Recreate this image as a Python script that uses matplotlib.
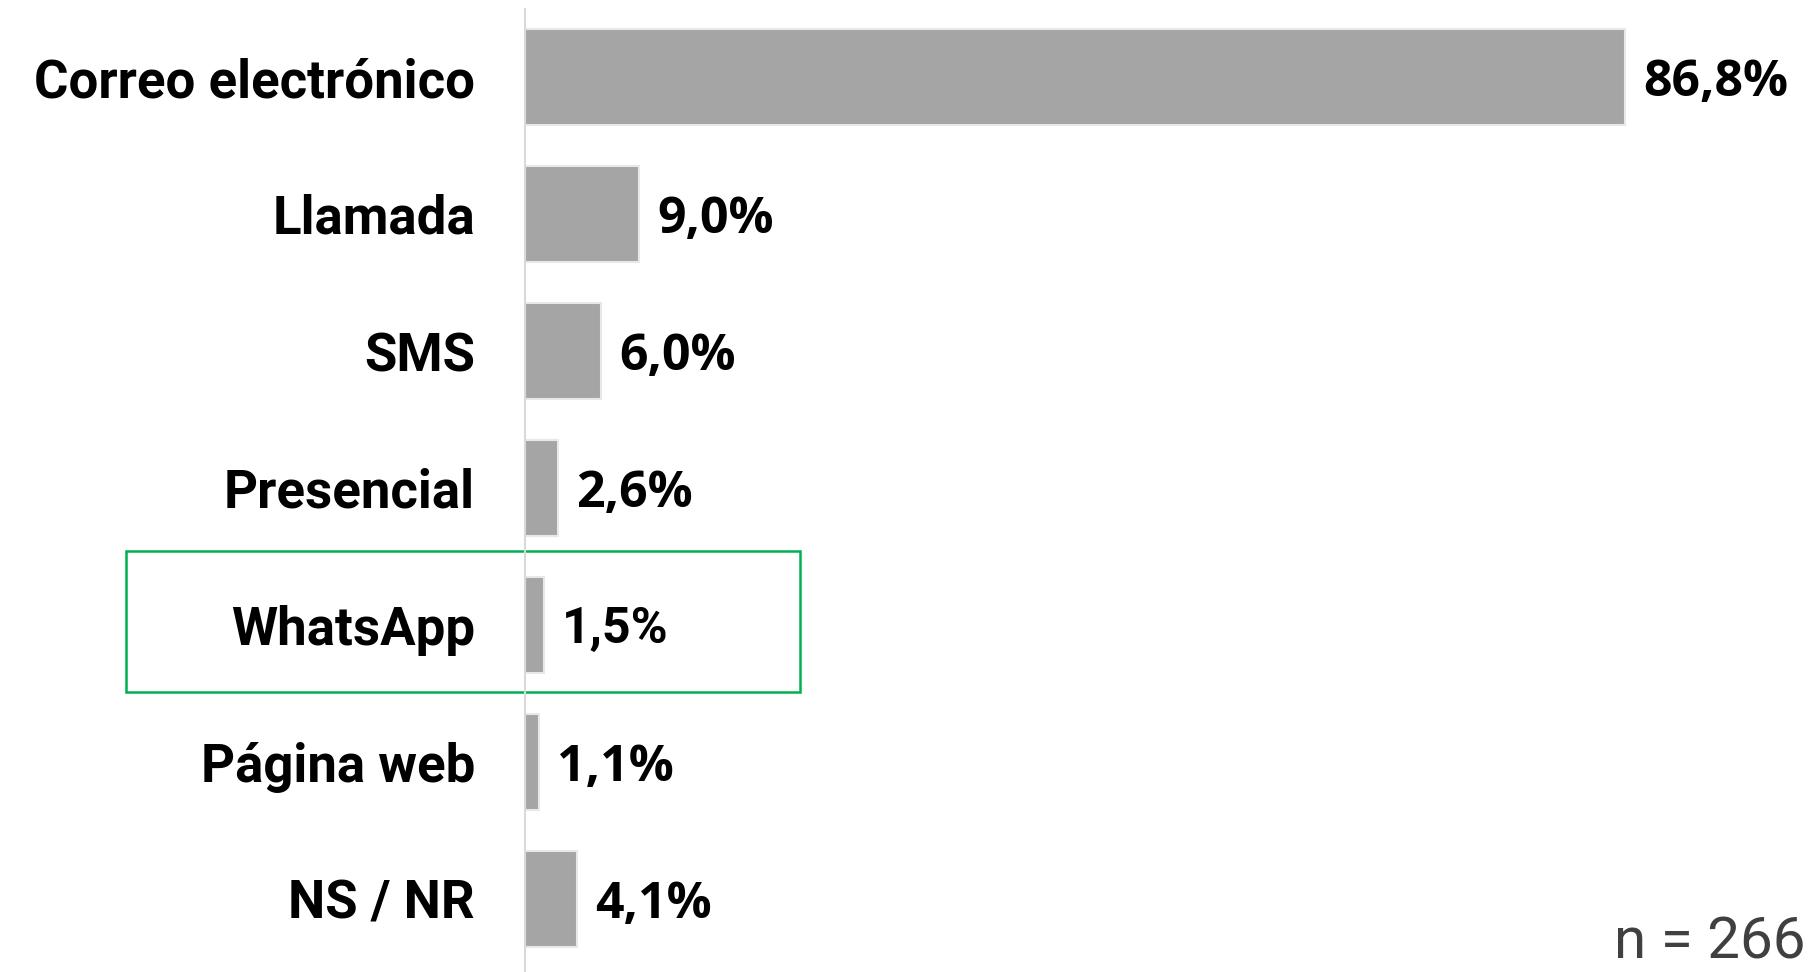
import matplotlib
matplotlib.use("Agg")
import matplotlib.pyplot as plt
from matplotlib.patches import Rectangle

# Datos del gráfico
categorias = ["Correo electrónico", "Llamada", "SMS", "Presencial", "WhatsApp", "Página web", "NS / NR"]
valores = [86.8, 9.0, 6.0, 2.6, 1.5, 1.1, 4.1]
etiquetas = ["86,8%", "9,0%", "6,0%", "2,6%", "1,5%", "1,1%", "4,1%"]
destacado = "WhatsApp"
nota = "n = 266"

W, H, DPI = 1818, 972, 100
fig = plt.figure(figsize=(W / DPI, H / DPI), dpi=DPI)

# Posición de los ejes en píxeles
x0 = 525
px_por_pct = 12.67
top_px = 9
centro0 = 77
paso = 137

ax = fig.add_axes([x0 / W, 0, 1 - x0 / W, (H - top_px) / H])
ax.set_xlim(0, (W - x0) / px_por_pct)
ax.set_ylim((H - centro0) / paso, -(centro0 - top_px) / paso)

y = list(range(len(categorias)))
ax.barh(y, valores, height=0.70, color="#a5a5a5", edgecolor="#e8e8e8", linewidth=1.5)

# Etiquetas de valor
for i, (v, t) in enumerate(zip(valores, etiquetas)):
    fam = "Roboto" if categorias[i] == destacado else "Open Sans"
    ax.annotate(t, (v, i), xytext=(13, 0), textcoords="offset points",
                ha="left", va="center_baseline", fontsize=36, fontweight="bold",
                family=fam, color="black")

ax.set_yticks(y)
ax.set_yticklabels(categorias, fontsize=38, fontweight="bold", family="Roboto")
ax.tick_params(axis="y", length=0, pad=36)
ax.tick_params(axis="x", bottom=False, labelbottom=False)
for s in ["top", "right", "bottom"]:
    ax.spines[s].set_visible(False)
ax.spines["left"].set_color("#d9d9d9")
ax.spines["left"].set_linewidth(1.5)

# Recuadro verde alrededor de la categoría destacada
k = categorias.index(destacado)
ax.add_patch(Rectangle((-31.5, k - 0.54), 53.2, 1.03, fill=False,
                       edgecolor="#00b050", linewidth=1.8, clip_on=False))

fig.text(1805 / W, 1 - 958 / H, nota, ha="right", va="baseline",
         fontsize=42, family="Roboto", color="#404040")

fig.savefig("out.png", dpi=DPI)
